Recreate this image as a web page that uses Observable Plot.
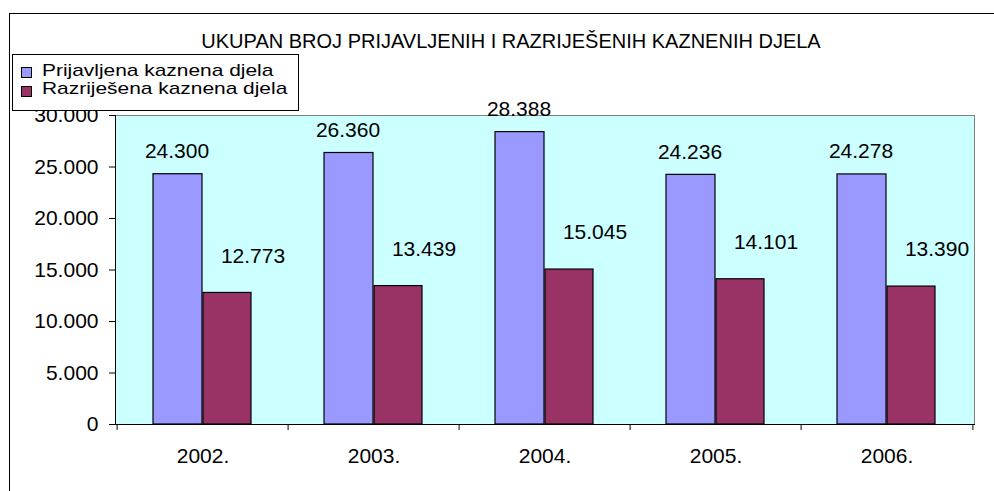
<!DOCTYPE html>
<html>
<head>
<meta charset="utf-8">
<script src="https://cdn.jsdelivr.net/npm/d3@7"></script>
<script src="https://cdn.jsdelivr.net/npm/@observablehq/plot@0.6"></script>
<style>
  body { margin: 0; background: #fff; font-family: "Liberation Sans", Arial, sans-serif; }
  #wrap { position: relative; width: 994px; height: 491px; overflow: hidden; background: #fff; }
  #frame { position: absolute; left: 9px; top: 13px; width: 1200px; height: 700px; border-left: 1px solid #000; border-top: 1px solid #000; }
  #chart { position: absolute; left: 0; top: 0; }
  #title { position: absolute; left: 0; top: 31px; width: 1022px; text-align: center; font-size: 20px; line-height: 20px; white-space: nowrap; color: #000; }
  #legend { position: absolute; left: 12px; top: 54px; width: 285px; height: 55px; border: 1px solid #000; background: #fff; z-index: 2; }
  .sw { position: absolute; left: 8px; width: 9px; height: 9px; border: 1px solid #000; }
  .lt { position: absolute; left: 29px; font-size: 17px; line-height: 19px; white-space: nowrap; color: #000; transform: scaleX(1.23); transform-origin: 0 50%; }
</style>
</head>
<body>
<div id="wrap">
  <div id="frame"></div>
  <div id="chart"></div>
  <div id="title"></div>
  <div id="legend"></div>
</div>
<script>
const title = "UKUPAN BROJ PRIJAVLJENIH I RAZRIJEŠENIH KAZNENIH DJELA";
const years = ["2002.", "2003.", "2004.", "2005.", "2006."];
const seriesNames = ["Prijavljena kaznena djela", "Razriješena kaznena djela"];
const prijavljena = [24300, 26360, 28388, 24236, 24278];
const razrijesena = [12773, 13439, 15045, 14101, 13390];
const yTicks = [0, 5000, 10000, 15000, 20000, 25000, 30000];
const colors = ["#9999FF", "#993366"];

const fmt = d => d3.format(",")(d).replace(/,/g, ".");
const data = years.map((y, i) => ({year: y, prij: prijavljena[i], razr: razrijesena[i]}));

const W = 994, H = 491, mL = 115, mR = 20, mT = 115, mB = 67;
const bw = (W - mL - mR) / years.length;

const plot = Plot.plot({
  width: W, height: H,
  marginLeft: mL, marginRight: mR, marginTop: mT, marginBottom: mB,
  style: {fontFamily: "'Liberation Sans', Arial, sans-serif", fontSize: "21px", background: "transparent", color: "#000", overflow: "visible"},
  x: {domain: years, padding: 0, label: null},
  y: {domain: [0, 30000], label: null},
  marks: [
    Plot.frame({fill: "#CCFFFF", stroke: "#808080"}),
    Plot.barY(data, {x: "year", y: "prij", fill: colors[0], stroke: "#000", strokeWidth: 1.2, insetLeft: 36, insetRight: 86}),
    Plot.barY(data, {x: "year", y: "razr", fill: colors[1], stroke: "#000", strokeWidth: 1.2, insetLeft: 86, insetRight: 37}),
    Plot.frame({anchor: "left", stroke: "#000"}),
    Plot.frame({anchor: "bottom", stroke: "#000"}),
    Plot.axisY({ticks: yTicks, tickSize: 6, tickPadding: 11, tickFormat: fmt, fontSize: 21, stroke: "#000", label: null}),
    Plot.axisX({tickSize: 0, tickPadding: 24, fontSize: 21, label: null}),
    Plot.ruleX(years, {x: d => d, y1: 0, y2: 0, dx: -bw / 2, insetBottom: -6, stroke: "#000"}),
    Plot.ruleX(years.slice(-1), {x: d => d, y1: 0, y2: 0, dx: bw / 2, insetBottom: -6, stroke: "#000"}),
    Plot.text(data, {x: "year", y: "prij", text: d => fmt(d.prij), dx: -26, dy: -23, fontSize: 21, fill: "#000"}),
    Plot.text(data, {x: "year", y: "razr", text: d => fmt(d.razr), dx: 50, dy: -37, fontSize: 21, fill: "#000"})
  ]
});
document.getElementById("chart").appendChild(plot);

document.getElementById("title").textContent = title;
const legend = document.getElementById("legend");
seriesNames.forEach((name, i) => {
  const sw = document.createElement("div");
  sw.className = "sw";
  sw.style.top = (12 + 19 * i) + "px";
  sw.style.background = colors[i];
  legend.appendChild(sw);
  const t = document.createElement("div");
  t.className = "lt";
  t.style.top = (5.5 + 18.5 * i) + "px";
  t.textContent = name;
  legend.appendChild(t);
});
</script>
</body>
</html>
